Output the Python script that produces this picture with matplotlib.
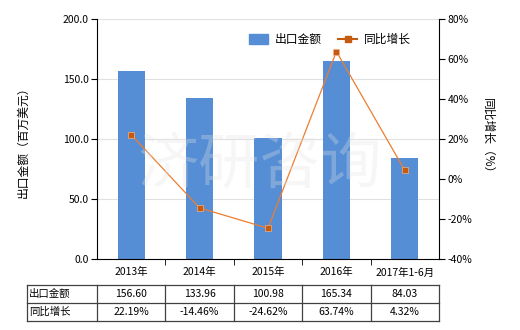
import matplotlib.pyplot as plt
import numpy as np
from matplotlib.lines import Line2D
from matplotlib.patches import Patch

plt.rcParams['font.family'] = ['Noto Sans CJK SC', 'DejaVu Sans']

categories = ['2013年', '2014年', '2015年', '2016年', '2017年1-6月']
export_value = [156.60, 133.96, 100.98, 165.34, 84.03]
growth = [22.19, -14.46, -24.62, 63.74, 4.32]
value_labels = ['156.60', '133.96', '100.98', '165.34', '84.03']
growth_labels = ['22.19%', '-14.46%', '-24.62%', '63.74%', '4.32%']

bar_color = '#558ed5'
line_color = '#ed7d31'
marker_color = '#c55a11'
fs = 7.5

fig = plt.figure(figsize=(5.2, 3.3), dpi=100)
ax = fig.add_axes([97 / 520, 1 - 259 / 330, 342 / 520, 240 / 330])
x = np.arange(len(categories))
ax.bar(x, export_value, width=0.4, color=bar_color, zorder=2)
ax.set_xlim(-0.5, len(categories) - 0.5)
ax.set_ylim(0, 200)
ax.set_yticks(np.arange(0, 201, 50))
ax.set_yticklabels([f'{v:.1f}' for v in np.arange(0, 201, 50)], fontsize=fs)
ax.set_xticks(x)
ax.set_xticklabels(categories, fontsize=fs)
ax.set_xticks(np.arange(0.5, len(categories) - 0.5, 1), minor=True)
ax.tick_params(axis='x', which='major', length=0, pad=6)
ax.tick_params(axis='x', which='minor', length=4, direction='out')
ax.tick_params(axis='y', length=4, direction='out', pad=2)
ax.grid(axis='y', color='#e0e0e0', linewidth=0.8, zorder=0)
ax.spines['top'].set_visible(False)
ax.spines['right'].set_visible(False)
ax.set_ylabel('出口金额（百万美元）', fontsize=fs + 1, labelpad=24)

ax2 = ax.twinx()
ax2.plot(x, growth, color=line_color, linewidth=0.9, marker='s', markersize=4,
         markerfacecolor=marker_color, markeredgecolor='#f4b183', markeredgewidth=0.5, zorder=3)
ax2.set_ylim(-40, 80)
ax2.set_yticks(np.arange(-40, 81, 20))
ax2.set_yticklabels([f'{v}%' for v in np.arange(-40, 81, 20)], fontsize=fs)
ax2.tick_params(axis='y', length=4, direction='out', pad=2)
ax2.spines['top'].set_visible(False)
ax2.spines['left'].set_visible(False)
ax2.spines['bottom'].set_visible(False)
ax2.set_ylabel('同比增长（%）', fontsize=fs + 1, rotation=270, labelpad=16)

handles = [Patch(color=bar_color, label='出口金额'),
           Line2D([0], [0], color=marker_color, linewidth=1.5, marker='s', markersize=4,
                  label='同比增长')]
ax.legend(handles=handles, loc='upper right', bbox_to_anchor=(0.95, 0.985), ncol=2,
          frameon=False, fontsize=fs + 1, handlelength=1.6, handleheight=0.9,
          columnspacing=1.4, handletextpad=0.6)

fig.text(0.5, 0.5, '济研咨询', fontsize=44, color='#e4e4e4', alpha=0.3,
         ha='center', va='center', zorder=0)

# data table below the chart
tx0, tx1 = 27, 439
col_edges = [27] + list(np.linspace(97, 439, len(categories) + 1))
row_edges = [285, 303, 321]
for ye in row_edges:
    fig.add_artist(Line2D([tx0 / 520, tx1 / 520], [1 - ye / 330, 1 - ye / 330],
                          color='#404040', linewidth=0.9))
for xe in col_edges:
    fig.add_artist(Line2D([xe / 520, xe / 520], [1 - 285 / 330, 1 - 321 / 330],
                          color='#404040', linewidth=0.9))
rows = [('出口金额', value_labels), ('同比增长', growth_labels)]
for r, (name, labels) in enumerate(rows):
    yc = 1 - (row_edges[r] + row_edges[r + 1]) / 2 / 330
    fig.text(29 / 520, yc, name, fontsize=fs, ha='left', va='center')
    for i, lab in enumerate(labels):
        xc = (col_edges[i + 1] + col_edges[i + 2]) / 2 / 520
        fig.text(xc, yc, lab, fontsize=fs, ha='center', va='center')

fig.savefig('out.png', dpi=100)
